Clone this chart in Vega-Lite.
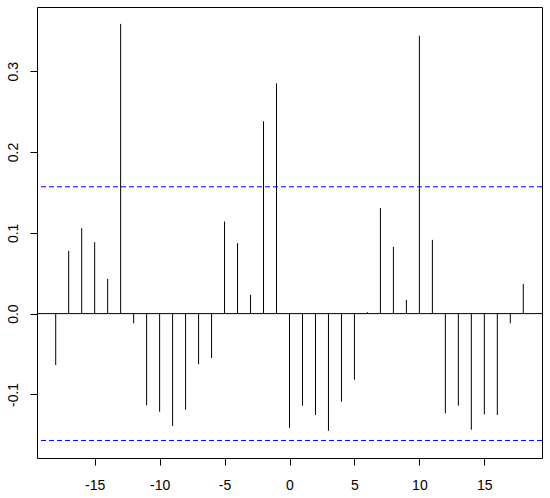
{
  "$schema": "https://vega.github.io/schema/vega-lite/v6.json",
  "width": 505,
  "height": 451,
  "autosize": {"type": "none"},
  "padding": {"left": 37, "top": 7, "right": 8, "bottom": 40},
  "background": "white",
  "config": {
    "view": {"stroke": "black", "strokeWidth": 1},
    "axis": {
      "grid": false,
      "domain": false,
      "ticks": true,
      "tickColor": "black",
      "tickSize": 7,
      "labelColor": "black",
      "labelFont": "Liberation Sans",
      "labelFontSize": 14,
      "title": null
    }
  },
  "datasets": {
    "ccf": [
      {"lag": -18, "acf": -0.0636},
      {"lag": -17, "acf": 0.0777},
      {"lag": -16, "acf": 0.1058},
      {"lag": -15, "acf": 0.0885},
      {"lag": -14, "acf": 0.043},
      {"lag": -13, "acf": 0.3586},
      {"lag": -12, "acf": -0.012},
      {"lag": -11, "acf": -0.1135},
      {"lag": -10, "acf": -0.1214},
      {"lag": -9, "acf": -0.139},
      {"lag": -8, "acf": -0.119},
      {"lag": -7, "acf": -0.0627},
      {"lag": -6, "acf": -0.0549},
      {"lag": -5, "acf": 0.114},
      {"lag": -4, "acf": 0.0872},
      {"lag": -3, "acf": 0.0232},
      {"lag": -2, "acf": 0.238},
      {"lag": -1, "acf": 0.285},
      {"lag": 0, "acf": -0.1413},
      {"lag": 1, "acf": -0.114},
      {"lag": 2, "acf": -0.1255},
      {"lag": 3, "acf": -0.145},
      {"lag": 4, "acf": -0.109},
      {"lag": 5, "acf": -0.0818},
      {"lag": 6, "acf": 0.0017},
      {"lag": 7, "acf": 0.1306},
      {"lag": 8, "acf": 0.0826},
      {"lag": 9, "acf": 0.017},
      {"lag": 10, "acf": 0.344},
      {"lag": 11, "acf": 0.0913},
      {"lag": 12, "acf": -0.1234},
      {"lag": 13, "acf": -0.114},
      {"lag": 14, "acf": -0.1437},
      {"lag": 15, "acf": -0.1247},
      {"lag": 16, "acf": -0.1255},
      {"lag": 17, "acf": -0.012},
      {"lag": 18, "acf": 0.0368}
    ],
    "ci": [{"ci": 0.157}, {"ci": -0.157}],
    "zero": [{"v": 0}]
  },
  "layer": [
    {
      "data": {"name": "zero"},
      "mark": {"type": "rule", "color": "black", "strokeWidth": 1},
      "encoding": {
        "y": {"field": "v", "type": "quantitative", "scale": {"domain": [-0.1787, 0.3795], "nice": false, "zero": false}}
      }
    },
    {
      "data": {"name": "ccf"},
      "mark": {"type": "rule", "color": "black", "strokeWidth": 1},
      "encoding": {
        "x": {
          "field": "lag",
          "type": "quantitative",
          "scale": {"domain": [-19.44, 19.44], "nice": false, "zero": false},
          "axis": {
            "values": [-15, -10, -5, 0, 5, 10, 15],
            "labelPadding": 13,
            "labelExpr": "datum.value < 0 ? '-' + format(-datum.value, 'd') : format(datum.value, 'd')"
          }
        },
        "y": {
          "field": "acf",
          "type": "quantitative",
          "scale": {"domain": [-0.1787, 0.3795], "nice": false, "zero": false},
          "axis": {
            "values": [-0.1, 0, 0.1, 0.2, 0.3],
            "labelAngle": -90,
            "labelAlign": "center",
            "labelBaseline": "alphabetic",
            "labelPadding": 13,
            "labelExpr": "datum.value < 0 ? '-' + format(-datum.value, '.1f') : format(datum.value, '.1f')"
          }
        },
        "y2": {"datum": 0}
      }
    },
    {
      "data": {"name": "ci"},
      "mark": {"type": "rule", "color": "#0000ff", "strokeWidth": 1, "strokeDash": [5, 3]},
      "encoding": {
        "y": {"field": "ci", "type": "quantitative"}
      }
    }
  ]
}
